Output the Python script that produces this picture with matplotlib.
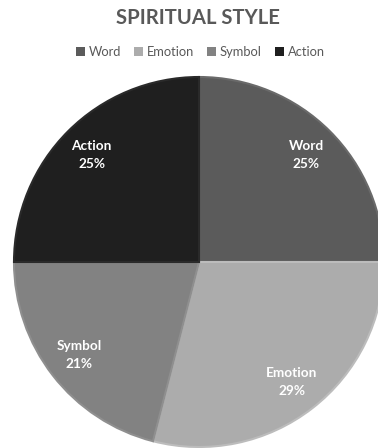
import numpy as np
import matplotlib.pyplot as plt
from matplotlib.patches import Patch

labels = ["Word", "Emotion", "Symbol", "Action"]
values = [25, 29, 21, 25]
colors = ["#5b5b5b", "#acacac", "#828282", "#1f1f1f"]
edges = ["#6a6a6a", "#bcbcbc", "#8f8f8f", "#2a2a2a"]

plt.rcParams['font.family'] = ['Lato', 'DejaVu Sans']

fig = plt.figure(figsize=(3.78, 4.48), dpi=100)
# pie radius ~185 px, centred at (199, 262) px from top-left
ax = fig.add_axes([14 / 378, 1 / 448, 370 / 378, 370 / 448])

wedges, texts = ax.pie(values, colors=colors, startangle=90, counterclock=False,
                       radius=1, wedgeprops=dict(linewidth=1.5))
for w, e in zip(wedges, edges):
    w.set_edgecolor(e)
ax.set_xlim(-1, 1)
ax.set_ylim(-1, 1)
ax.set_aspect('equal')
ax.axis('off')

total = sum(values)
ang = 90
for lab, v in zip(labels, values):
    a = ang - 360 * v / total / 2
    ang -= 360 * v / total
    r = 0.82
    ax.text(r * np.cos(np.deg2rad(a)), r * np.sin(np.deg2rad(a)),
            f"{lab}\n{round(100 * v / total)}%", ha='center', va='center',
            color='white', fontsize=9.8, fontweight='bold', linespacing=1.6)

fig.text(198 / 378, 1 - 18 / 448, "SPIRITUAL STYLE", ha='center', va='center',
         fontsize=14.6, fontweight='bold', color='#595959')

handles = [Patch(facecolor=c, edgecolor='none') for c in colors]
fig.legend(handles, labels, loc='center', bbox_to_anchor=(200 / 378, 1 - 52 / 448),
           ncol=4, frameon=False, fontsize=9.3, labelcolor='#595959',
           handlelength=0.7, handleheight=0.7, handletextpad=0.3,
           columnspacing=1.0)

fig.savefig("out.png", dpi=100, facecolor='white')
